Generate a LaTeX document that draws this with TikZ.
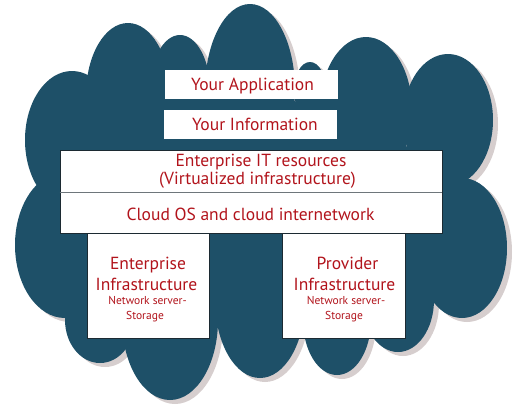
\documentclass[tikz,border=0pt]{standalone}
\usepackage{fontspec}
\setmainfont{PT Sans}
\definecolor{cloudfill}{HTML}{1E5068}
\definecolor{cloudshadow}{HTML}{D6CECE}
\definecolor{txtred}{HTML}{B2141C}
\definecolor{boxline}{HTML}{1C2A32}
\definecolor{divline}{HTML}{6E767B}
\newcommand\lobelist{72/140/47/69, 128/95/42/72, 180/90/30/55, 250/90/45/86,
 310/90/16/28, 366/110/46/73, 448/120/45/66, 462/248/45/70, 398/300/36/52,
 337/320/34/55, 260/300/45/78, 170/320/48/80, 100/320/35/43, 65/245/50/73,
 270/215/170/115}
\begin{document}
\begin{tikzpicture}[x=1pt,y=-1pt,
  plainbox/.style={fill=white, minimum height=29pt, minimum width=173pt, inner sep=0pt},
  framebox/.style={fill=white, draw=boxline, line width=0.9pt, inner sep=0pt},
  bigtxt/.style={text=txtred, font=\fontsize{17.5}{20}\selectfont, anchor=base, inner sep=0pt},
  smalltxt/.style={text=txtred, font=\fontsize{11.5}{13}\selectfont, anchor=base, inner sep=0pt}]
\useasboundingbox (0,0) rectangle (523,416);
% cloud shadow and cloud
\foreach \cx/\cy/\rx/\ry in \lobelist {
  \fill[cloudshadow] ([shift={(5pt,-4pt)}]\cx,\cy) ellipse [x radius=\rx, y radius=\ry];
}
\foreach \cx/\cy/\rx/\ry in \lobelist {
  \fill[cloudfill] (\cx,\cy) ellipse [x radius=\rx, y radius=\ry];
}
% boxes
\node[plainbox] (app) at (251.5,84.5) {};
\node[plainbox] (info) at (250.5,124.5) {};
\node[framebox, minimum width=382pt, minimum height=42pt] (eit) at (251,171) {};
\node[framebox, minimum width=382pt, minimum height=41pt] (cos) at (251,212.5) {};
\node[framebox, minimum width=122pt, minimum height=105pt] (ent) at (148,285.5) {};
\node[framebox, minimum width=123pt, minimum height=105pt] (prov) at (343.5,285.5) {};
\draw[divline, line width=1.6pt] (eit.south west) -- (eit.south east);
% texts
\node[bigtxt] (tapp) at (252.5,90.7) {Your Application};
\node[bigtxt] (tinfo) at (255,130) {Your Information};
\node[bigtxt] (teit1) at (261,166) {Enterprise IT resources};
\node[bigtxt] (teit2) at (257.5,184.5) {(Virtualized infrastructure)};
\node[bigtxt] (tcos) at (250.5,220) {Cloud OS and cloud internetwork};
\node[bigtxt] (tent1) at (148,269) {Enterprise};
\node[bigtxt] (tent2) at (146.5,290) {Infrastructure};
\node[smalltxt] (tent3) at (147.5,304.3) {Network server-};
\node[smalltxt] (tent4) at (145,319.3) {Storage};
\node[bigtxt] (tprov1) at (347.5,269) {Provider};
\node[bigtxt] (tprov2) at (344.5,290) {Infrastructure};
\node[smalltxt] (tprov3) at (346,304.3) {Network server-};
\node[smalltxt] (tprov4) at (344,319.3) {Storage};
\end{tikzpicture}
\end{document}
